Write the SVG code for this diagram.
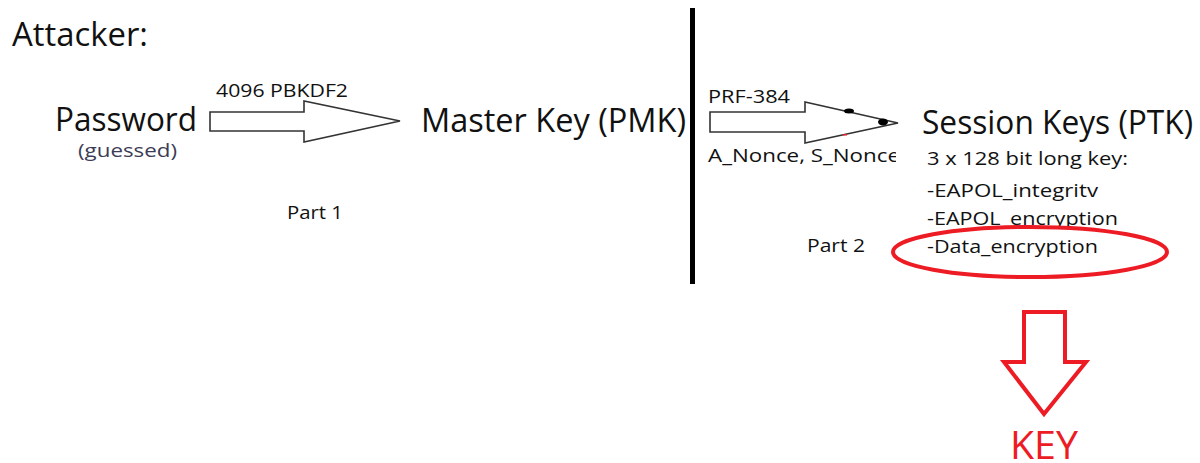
<svg xmlns="http://www.w3.org/2000/svg" width="1200" height="463" viewBox="0 0 1200 463">
<style>
text{font-family:"Open Sans",Lato,"Liberation Sans",sans-serif;fill:#111}
.big{font-size:32px}
.sm{font-size:19px}
.blk{fill:#fff;stroke:#333;stroke-width:1.6}
.rs{fill:none;stroke:#ed1c24;stroke-width:4}
</style>
<defs><clipPath id="c1"><rect x="700" y="140" width="196" height="30"/></clipPath></defs>
<rect width="1200" height="463" fill="#fff"/>
<text x="12" y="46" class="big" textLength="136" lengthAdjust="spacingAndGlyphs">Attacker:</text>
<g id="password">
<text x="55" y="131" class="big" textLength="142" lengthAdjust="spacingAndGlyphs">Password</text>
<text x="78" y="157" class="sm" style="fill:#3c3c55" textLength="99" lengthAdjust="spacingAndGlyphs">(guessed)</text>
</g>
<g id="pmk"><text x="421" y="132" class="big" textLength="265" lengthAdjust="spacingAndGlyphs">Master Key (PMK)</text></g>
<g id="ptk">
<text x="922" y="134" class="big" textLength="271" lengthAdjust="spacingAndGlyphs">Session Keys (PTK)</text>
<text x="927" y="165" class="sm" textLength="201" lengthAdjust="spacingAndGlyphs">3 x 128 bit long key:</text>
<text x="927" y="197" class="sm" textLength="171" lengthAdjust="spacingAndGlyphs">-EAPOL_integritv</text>
<text x="927" y="225" class="sm" textLength="191" lengthAdjust="spacingAndGlyphs">-EAPOL_encryption</text>
<text x="927" y="253" class="sm" textLength="171" lengthAdjust="spacingAndGlyphs">-Data_encryption</text>
</g>
<g id="labels">
<text x="287" y="219" class="sm" textLength="56" lengthAdjust="spacingAndGlyphs">Part 1</text>
<text x="807" y="252" class="sm" textLength="58" lengthAdjust="spacingAndGlyphs">Part 2</text>
</g>
<g id="divider"><rect x="690" y="8" width="5" height="276" fill="#000"/></g>
<g id="connectors">
<polygon class="blk" points="210,112 304,112 304,101 400,121 304,142 304,131 210,131"/>
<text x="216" y="97" class="sm" textLength="132" lengthAdjust="spacingAndGlyphs">4096 PBKDF2</text>
<polygon class="blk" points="710,112 805,112 805,102 898,123 805,143 805,132 710,132"/>
<ellipse cx="849" cy="111" rx="5" ry="2.5" fill="#000"/>
<ellipse cx="883" cy="122" rx="5" ry="3.5" fill="#000"/>
<rect x="843" y="134" width="4" height="1.5" fill="#ed1c24"/>
<text x="708" y="103" class="sm" textLength="82" lengthAdjust="spacingAndGlyphs">PRF-384</text>
<text x="708" y="162" class="sm" clip-path="url(#c1)" textLength="192" lengthAdjust="spacingAndGlyphs">A_Nonce, S_Nonce</text>
</g>
<g id="highlight">
<ellipse cx="1030" cy="252" rx="137" ry="25" class="rs"/>
<polygon class="rs" points="1024,312 1065,312 1065,362 1086,362 1044,414 1004,362 1024,362"/>
<text x="1010" y="459" style="font-size:38px;fill:#ed1c24" textLength="68" lengthAdjust="spacingAndGlyphs">KEY</text>
</g>
</svg>
